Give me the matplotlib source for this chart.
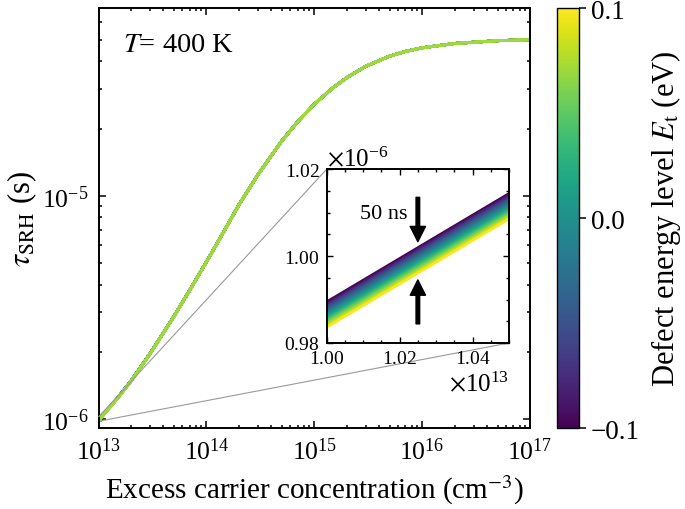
import numpy as np
import matplotlib
matplotlib.use("Agg")
import matplotlib.pyplot as plt
from matplotlib import colors
from matplotlib.ticker import ScalarFormatter, MultipleLocator, LogLocator, NullFormatter
from mpl_toolkits.axes_grid1.inset_locator import mark_inset

plt.rcParams['font.family'] = ['Liberation Serif', 'DejaVu Serif']
plt.rcParams['mathtext.fontset'] = 'stix'
plt.rcParams['font.size'] = 18

# excess carrier concentration (cm^-3) and lifetime of the Et = -0.1 eV curve (s)
excess = [1.0e13, 1.05e13, 1.5e13, 2e13, 3e13, 5e13, 7e13, 1e14, 1.5e14, 2e14,
          3e14, 5e14, 7e14, 1e15, 1.5e15, 2e15, 3e15, 5e15, 7e15, 1e16,
          2e16, 5e16, 1e17]
tau_top = [0.9895e-6, 1.0144e-6, 1.24e-6, 1.48e-6, 1.96e-6, 2.88e-6, 3.77e-6,
           5.05e-6, 7.1e-6, 9.1e-6, 1.24e-5, 1.76e-5, 2.14e-5, 2.57e-5,
           3.05e-5, 3.38e-5, 3.80e-5, 4.22e-5, 4.43e-5, 4.60e-5, 4.81e-5,
           4.95e-5, 5.0e-5]

# defect energy levels (eV) and shift of each curve from the top one (ns)
et_levels = [-0.10, -0.09, -0.08, -0.07, -0.06, -0.05, -0.04, -0.03, -0.02, -0.01,
             0.00, 0.01, 0.02, 0.03, 0.04, 0.05, 0.06, 0.07, 0.08, 0.09, 0.10]
shift_ns = [0.0, -0.3, -0.6, -0.9, -1.2, -1.5, -1.8, -2.1, -2.4, -2.7,
            -3.0, -3.3, -3.6, -3.9, -4.2, -4.5, -4.8, -5.1, -5.4, -5.7, -5.9]

cmap = plt.get_cmap('viridis')
norm = colors.Normalize(vmin=-0.1, vmax=0.1)

fig = plt.figure(figsize=(6.85, 5.1), dpi=100)
ax = fig.add_axes([0.1438, 0.1588, 0.6299, 0.8226])
cax = fig.add_axes([0.813, 0.1588, 0.032, 0.8226])
axins = fig.add_axes([0.477, 0.3255, 0.266, 0.341])

x = np.array(excess)
# in the main panel the curves overlap; the lime one ends up on top
main_order = sorted(zip(et_levels, shift_ns), key=lambda p: -abs(p[0] - 0.07))
for et, s in main_order:
    ax.plot(x, np.array(tau_top) + s * 1e-9, color=cmap(norm(et)), lw=2.0)
for et, s in zip(et_levels, shift_ns):
    axins.plot(x, np.array(tau_top) + s * 1e-9, color=cmap(norm(et)), lw=1.8)

ax.set_xscale('log')
ax.set_yscale('log')
ax.set_xlim(1e13, 1e17)
ax.set_ylim(9.1e-7, 6.9e-5)
ax.xaxis.set_major_locator(LogLocator(base=10, numticks=10))
ax.xaxis.set_minor_locator(LogLocator(base=10, subs=np.arange(2, 10), numticks=20))
ax.xaxis.set_minor_formatter(NullFormatter())
ax.yaxis.set_minor_formatter(NullFormatter())
ax.set_xlabel(r"Excess carrier concentration (cm$^{-3}$)", fontsize=21, labelpad=6)
ax.set_ylabel(r"$\tau_\mathrm{SRH}$ (s)", fontsize=22, labelpad=2)
ax.text(0.057, 0.915, r"$T$= 400 K", transform=ax.transAxes, va='center', ha='left', fontsize=20.5)
ax.tick_params(which='both', direction='in', top=True, right=True, width=1.1)
ax.tick_params(which='major', length=5, pad=7, labelsize=18.5)
ax.tick_params(which='minor', length=2.5)
for sp in ax.spines.values():
    sp.set_linewidth(1.4)

# inset
axins.set_xlim(1.00e13, 1.05e13)
axins.set_ylim(0.98e-6, 1.02e-6)
for axis in (axins.xaxis, axins.yaxis):
    fmt = ScalarFormatter(useMathText=True)
    fmt.set_powerlimits((0, 0))
    axis.set_major_formatter(fmt)
axins.xaxis.set_major_locator(MultipleLocator(0.02e13))
axins.xaxis.set_minor_locator(MultipleLocator(0.005e13))
axins.yaxis.set_major_locator(MultipleLocator(0.02e-6))
axins.yaxis.set_minor_locator(MultipleLocator(0.005e-6))
axins.tick_params(which='both', direction='in', top=True, right=True, labelsize=14, width=1.0)
axins.tick_params(which='major', length=4, pad=5)
axins.tick_params(which='minor', length=2.5)
axins.xaxis.get_offset_text().set_fontsize(18)
axins.yaxis.get_offset_text().set_fontsize(18)
for sp in axins.spines.values():
    sp.set_linewidth(1.4)

arrow = dict(facecolor='black', edgecolor='black', width=2.6, headwidth=11, headlength=11, shrink=0)
axins.annotate('', xy=(1.025e13, 1.0033e-6), xytext=(1.025e13, 1.0135e-6), arrowprops=arrow)
axins.annotate('', xy=(1.025e13, 0.9945e-6), xytext=(1.025e13, 0.9844e-6), arrowprops=arrow)
axins.text(1.0222e13, 1.0097e-6, "50 ns", ha='right', va='center', fontsize=16)

mark_inset(ax, axins, loc1=2, loc2=4, fc='none', ec='0.6', lw=0.8)

sm = plt.cm.ScalarMappable(cmap=cmap, norm=norm)
cb = fig.colorbar(sm, cax=cax, ticks=[-0.1, 0.0, 0.1])
cb.ax.set_yticklabels([u"\u22120.1", "0.0", "0.1"])
cb.set_label(r"Defect energy level $E_\mathrm{t}$ (eV)", fontsize=22, labelpad=7)
cb.ax.tick_params(length=5, width=1.1, labelsize=19.5)
cb.outline.set_linewidth(1.0)

fig.savefig('out.png', dpi=100)
